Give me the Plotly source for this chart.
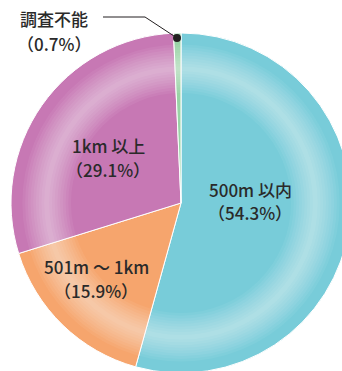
import plotly.graph_objects as go

labels = ["500m 以内", "501m ～ 1km", "1km 以上", "調査不能"]
values = [54.3, 15.9, 29.1, 0.7]
colors = ["#78CCD9", "#F6A56D", "#C778B4", "#98D3A5"]

W, H = 352, 374
CX, CY, R = 181, 203, 170

def px(x):
    return x / W

def py(y):
    return 1 - y / H

def disc_domain(r):
    return dict(x=[px(CX - r), px(CX + r)], y=[py(CY + r), py(CY - r)])

fig = go.Figure()
fig.add_trace(go.Pie(
    labels=labels, values=values, sort=False, direction="clockwise", rotation=0,
    marker=dict(colors=colors, line=dict(color="white", width=1)),
    textinfo="none", hoverinfo="label+percent", showlegend=False,
    domain=disc_domain(R),
))

# decorative light band (radial sheen) made of overlapping translucent rings
band_center = 0.79 * R
for k in range(9):
    d = (0.015 + 0.016 * k) * R
    r_out = min(band_center + d, R - 2)
    r_in = band_center - d
    fig.add_trace(go.Pie(
        values=[1], sort=False, hole=r_in / r_out,
        marker=dict(colors=["rgba(255,255,255,0.06)"], line=dict(width=0)),
        textinfo="none", hoverinfo="skip", showlegend=False,
        domain=disc_domain(r_out),
    ))

font = dict(family="Noto Sans CJK JP", size=17, color="#2A2A2A", weight=500)
label_pos = {
    "500m 以内": (250, 189, 213),
    "501m ～ 1km": (96, 266, 290),
    "1km 以上": (108, 145, 169),
    "調査不能": (54, 19, 43),
}
for lab, v in zip(labels, values):
    x, y1, y2 = label_pos[lab]
    fig.add_annotation(x=px(x), y=py(y1), xref="paper", yref="paper", text=lab,
                       showarrow=False, font=font, xanchor="center", yanchor="middle",
                       borderpad=0)
    fig.add_annotation(x=px(x), y=py(y2), xref="paper", yref="paper", text=f"（{v}%）",
                       showarrow=False, font=font, xanchor="center", yanchor="middle",
                       borderpad=0)

# leader line to the small slice
fig.add_shape(type="path", xref="paper", yref="paper",
              path=f"M {px(103)} {py(17)} L {px(145)} {py(17)} L {px(177)} {py(38)}",
              line=dict(color="#231F20", width=1))
fig.add_shape(type="circle", xref="paper", yref="paper",
              x0=px(173), x1=px(181), y0=py(34), y1=py(42),
              fillcolor="#231F20", line=dict(width=0))

fig.update_layout(width=W, height=H, margin=dict(l=0, r=0, t=0, b=0),
                  paper_bgcolor="white", plot_bgcolor="white")
fig.write_html("out.html",
               post_script="document.documentElement.style.overflow='hidden';document.body.style.overflow='hidden';")
